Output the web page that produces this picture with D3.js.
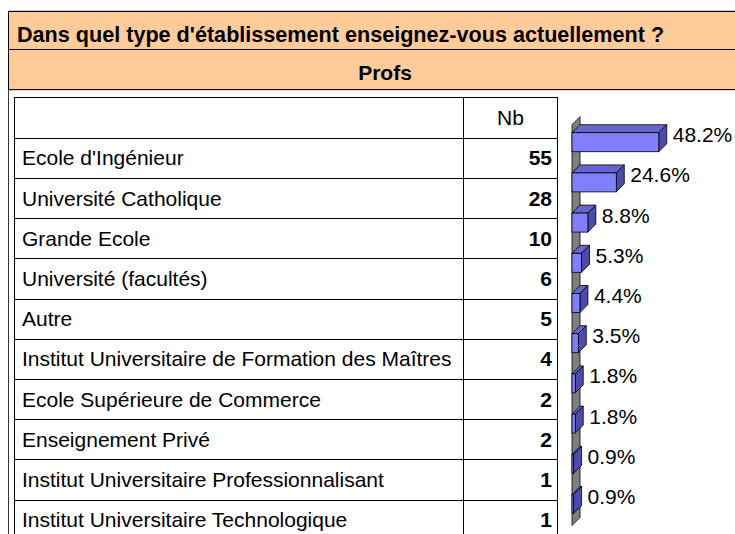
<!DOCTYPE html>
<html>
<head>
<meta charset="utf-8">
<script src="https://cdn.jsdelivr.net/npm/d3@7"></script>
<style>
  body { margin: 0; background: #fff; }
  text { font-family: "Liberation Sans", Arial, sans-serif; fill: #000; }
</style>
</head>
<body>
<script>
const title = "Dans quel type d'établissement enseignez-vous actuellement ?"
const groupLabel = "Profs"
const countHeader = "Nb"

const categories = [
  "Ecole d'Ingénieur",
  "Université Catholique",
  "Grande Ecole",
  "Université (facultés)",
  "Autre",
  "Institut Universitaire de Formation des Maîtres",
  "Ecole Supérieure de Commerce",
  "Enseignement Privé",
  "Institut Universitaire Professionnalisant",
  "Institut Universitaire Technologique"
]
const counts = [55, 28, 10, 6, 5, 4, 2, 2, 1, 1]
const percents = [48.2, 24.6, 8.8, 5.3, 4.4, 3.5, 1.8, 1.8, 0.9, 0.9]

const width = 735
const height = 534
const fs = 21

const svg = d3.select('body').append('svg')
  .attr('width', width)
  .attr('height', height)

// header band
const hdr = svg.append('g')
hdr.append('line')
  .attr('x1', 8).attr('x2', 770).attr('y1', 10.5).attr('y2', 10.5)
  .attr('stroke', '#ccc')
hdr.append('rect')
  .attr('x', 8.5).attr('y', 11.5).attr('width', 760).attr('height', 78)
  .attr('fill', '#ffcc99').attr('stroke', '#000')
hdr.append('line')
  .attr('x1', 8.5).attr('x2', 770).attr('y1', 49.5).attr('y2', 49.5)
  .attr('stroke', '#000')
hdr.append('line')
  .attr('x1', 8.5).attr('x2', 770).attr('y1', 90.5).attr('y2', 90.5)
  .attr('stroke', '#ffcc99')
hdr.append('text')
  .attr('x', 17).attr('y', 41.5)
  .attr('font-size', 21.6).attr('font-weight', 'bold')
  .text(title)
hdr.append('text')
  .attr('x', 385).attr('y', 80)
  .attr('text-anchor', 'middle')
  .attr('font-size', fs).attr('font-weight', 'bold')
  .text(groupLabel)

// outer frame left edge
svg.append('line')
  .attr('x1', 8.5).attr('x2', 8.5).attr('y1', 89).attr('y2', height)
  .attr('stroke', '#333')

// table
const tableLeft = 14.5, tableRight = 557.5, colSplit = 463.5
const rowH = 40.2
const headTop = 97.5
const rows = d3.scaleBand()
  .domain(categories)
  .range([headTop + rowH, headTop + rowH * (categories.length + 1)])

const table = svg.append('g')
table.append('rect')
  .attr('x', tableLeft).attr('y', headTop)
  .attr('width', tableRight - tableLeft).attr('height', rowH * (categories.length + 1))
  .attr('fill', '#fff').attr('stroke', '#000')
table.append('line')
  .attr('x1', colSplit).attr('x2', colSplit)
  .attr('y1', headTop).attr('y2', headTop + rowH * (categories.length + 1))
  .attr('stroke', '#000')
table.selectAll('line.row')
  .data(categories)
  .enter().append('line')
  .attr('class', 'row')
  .attr('x1', tableLeft).attr('x2', tableRight)
  .attr('y1', d => Math.round(rows(d)) + 0.5)
  .attr('y2', d => Math.round(rows(d)) + 0.5)
  .attr('stroke', '#000')
table.append('text')
  .attr('x', (colSplit + tableRight) / 2).attr('y', headTop + rowH / 2 + 7.5)
  .attr('text-anchor', 'middle')
  .attr('font-size', fs)
  .text(countHeader)
table.selectAll('text.cat')
  .data(categories)
  .enter().append('text')
  .attr('class', 'cat')
  .attr('x', 22)
  .attr('y', d => rows(d) + rowH / 2 + 7.5)
  .attr('font-size', fs)
  .text(d => d)
table.selectAll('text.nb')
  .data(counts)
  .enter().append('text')
  .attr('class', 'nb')
  .attr('x', 552)
  .attr('y', (d, i) => rows(categories[i]) + rowH / 2 + 7.5)
  .attr('text-anchor', 'end')
  .attr('font-size', fs).attr('font-weight', 'bold')
  .text(d => d)

// 3d bar chart
const depth = 8
const barH = 19
const x = d3.scaleLinear().domain([0, 50]).range([572, 662])
const barTop = c => rows(c) - 5

const chart = svg.append('g')
const wallTop = barTop(categories[0]) - 8
const wallBottom = barTop(categories[categories.length - 1]) + 31
chart.append('polygon')
  .attr('points', [
    [x(0), wallTop], [x(0) + depth, wallTop - depth],
    [x(0) + depth, wallBottom - depth], [x(0), wallBottom]
  ].join(' '))
  .attr('fill', '#808080').attr('stroke', '#000').attr('stroke-width', 0.8)

const bars = chart.selectAll('g.bar')
  .data(percents)
  .enter().append('g')
  .attr('class', 'bar')

bars.append('polygon')
  .attr('points', (d, i) => {
    const t = barTop(categories[i])
    return [[x(0), t], [x(0) + depth, t - depth], [x(d) + depth, t - depth], [x(d), t]].join(' ')
  })
  .attr('fill', '#6666cc').attr('stroke', '#000').attr('stroke-width', 0.8)
bars.append('polygon')
  .attr('points', (d, i) => {
    const t = barTop(categories[i])
    return [[x(d), t], [x(d) + depth, t - depth], [x(d) + depth, t + barH - depth], [x(d), t + barH]].join(' ')
  })
  .attr('fill', '#4c4ca8').attr('stroke', '#000').attr('stroke-width', 0.8)
bars.append('rect')
  .attr('x', x(0))
  .attr('y', (d, i) => barTop(categories[i]))
  .attr('width', d => x(d) - x(0))
  .attr('height', barH)
  .attr('fill', '#8080ff').attr('stroke', '#000').attr('stroke-width', 0.8)

bars.append('text')
  .attr('x', d => x(d) + depth + 6)
  .attr('y', (d, i) => barTop(categories[i]) + 9.5)
  .attr('font-size', fs)
  .attr('fill', '#111')
  .text(d => d3.format('.1f')(d) + '%')
</script>
</body>
</html>
